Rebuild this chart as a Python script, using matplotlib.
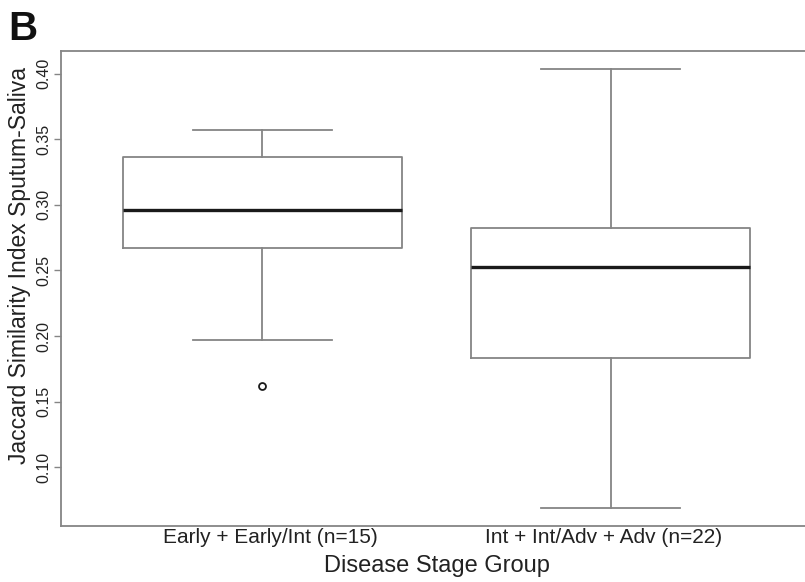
import matplotlib
matplotlib.use("Agg")
import matplotlib.pyplot as plt
import matplotlib.transforms as mtransforms

plt.rcParams["font.family"] = ["Liberation Sans", "DejaVu Sans"]

####################################
# Data
groups = ["Early + Early/Int (n=15)", "Int + Int/Adv + Adv (n=22)"]
whisker_low = [0.197, 0.0685]
q1 = [0.267, 0.1833]
median = [0.296, 0.2524]
q3 = [0.3366, 0.2826]
whisker_high = [0.3574, 0.404]
outliers = [[0.162], []]

yticks = [0.10, 0.15, 0.20, 0.25, 0.30, 0.35, 0.40]

####################################
# Style
line_col = "#858585"
text_col = "#222222"
label_shift = [8, -7]  # px, group labels sit a little off the box centres

stats = []
for i in range(len(groups)):
    stats.append(
        {
            "label": groups[i],
            "whislo": whisker_low[i],
            "q1": q1[i],
            "med": median[i],
            "q3": q3[i],
            "whishi": whisker_high[i],
            "fliers": outliers[i],
        }
    )

fig = plt.figure(figsize=(8.05, 5.82), dpi=100)
# right edge of the plot box runs past the image (cropped reference)
ax = fig.add_axes([60.5 / 805, 1 - 526 / 582, 752.2 / 805, 475 / 582])

ax.bxp(
    stats,
    positions=[1, 2],
    widths=0.8,
    showfliers=True,
    boxprops=dict(color=line_col, lw=1.3),
    whiskerprops=dict(color=line_col, lw=1.3),
    capprops=dict(color=line_col, lw=1.3),
    capwidths=0.4,
    medianprops=dict(color="#1a1a1a", lw=2.4),
    flierprops=dict(marker="o", markersize=5, markerfacecolor="none",
                    markeredgecolor="#1a1a1a", markeredgewidth=1.3),
)

ax.set_xlim(0.42, 2.58)
ax.set_ylim(0.0551, 0.4174)

ax.set_yticks(yticks)
ax.set_yticklabels(["%.2f" % t for t in yticks], rotation=90, va="center",
                   fontsize=11.5, color=text_col)
ax.tick_params(axis="y", length=5, width=1, color=line_col, pad=1.5)
ax.tick_params(axis="x", length=0, pad=1.5, labelsize=15, labelcolor=text_col)

for lab, dx in zip(ax.get_xticklabels(), label_shift):
    lab.set_transform(lab.get_transform() +
                      mtransforms.ScaledTranslation(dx / 100, 0, fig.dpi_scale_trans))

for s in ax.spines.values():
    s.set_color(line_col)
    s.set_linewidth(1.3)

ax.set_xlabel("Disease Stage Group", fontsize=17, color=text_col, labelpad=6)
ax.set_ylabel("Jaccard Similarity Index Sputum-Saliva", fontsize=16.5,
              color=text_col)
ax.yaxis.set_label_coords(-0.039, (526 - 266) / 475)

fig.text(8 / 805, 1 - 40 / 582, "B", fontsize=29, fontweight="bold", color="#111111")

plt.savefig("out.png", dpi=100)
